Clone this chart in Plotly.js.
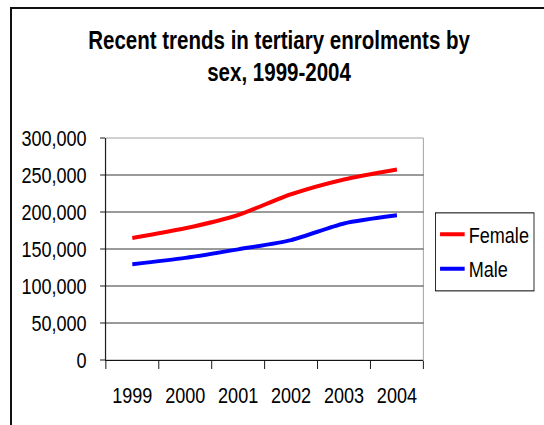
<!DOCTYPE html>
<html>
<head>
<meta charset="utf-8">
<script src="https://cdn.plot.ly/plotly-3.0.1.min.js"></script>
<style>
  html, body { margin: 0; padding: 0; background: #fff; }
  #wrap { position: relative; width: 544px; height: 425px; overflow: hidden; }
  /* the chart is laid out wide and squeezed horizontally for a narrow type face */
  #chart { position: absolute; left: 0; top: 0; width: 663px; height: 425px;
           transform: scaleX(0.8205); transform-origin: 0 0; }
  #frame { position: absolute; left: 10px; top: 7px; width: 560px; height: 440px;
           border-left: 2px solid #111; border-top: 2px solid #111; box-sizing: border-box; pointer-events: none; }
</style>
</head>
<body>
<div id="wrap">
  <div id="chart"></div>
  <div id="frame"></div>
</div>
<script>
// Tertiary enrolments by sex, 1999-2004
const years = ['1999', '2000', '2001', '2002', '2003', '2004'];
const female = [165000, 178000, 196000, 224000, 244000, 257500];
const male = [129500, 138000, 149500, 162000, 184500, 195500];
const yTicks = [0, 50000, 100000, 150000, 200000, 250000, 300000];

const font = 'Liberation Sans, Arial, sans-serif';

const traces = [
  { x: years, y: female, name: 'Female', legendgroup: 'f', type: 'scatter', mode: 'lines',
    line: { color: '#ff0000', width: 4, shape: 'spline', smoothing: 0.7 } },
  { x: years, y: male, name: 'Male', legendgroup: 'm', type: 'scatter', mode: 'lines',
    line: { color: '#0000ff', width: 4, shape: 'spline', smoothing: 0.7 } }
];

const layout = {
  width: 663, height: 425,
  margin: { l: 129, r: 141, t: 138, b: 65 },
  paper_bgcolor: 'rgba(0,0,0,0)',
  plot_bgcolor: '#fff',
  font: { family: font, size: 22, color: '#000' },
  title: {
    text: '<b>Recent trends in tertiary enrolments by<br>sex, 1999-2004</b>',
    font: { family: font, size: 25, color: '#000' },
    x: 0.513, xref: 'container', xanchor: 'center',
    y: 0.885, yref: 'container', yanchor: 'top'
  },
  xaxis: {
    type: 'category', range: [-0.5, 5.5], tickangle: 0,
    tickson: 'boundaries', ticks: 'outside', ticklen: 8, tickcolor: '#000', tickwidth: 1,
    showline: true, linecolor: '#000', linewidth: 1,
    showgrid: false, zeroline: false,
    ticklabelstandoff: 16, fixedrange: true
  },
  yaxis: {
    range: [0, 300000], tickvals: yTicks, tickformat: ',d',
    ticks: 'outside', ticklen: 6, tickcolor: '#000', tickwidth: 1,
    showline: true, linecolor: '#000', linewidth: 1,
    showgrid: true, gridcolor: '#222', gridwidth: 1,
    zeroline: false, ticklabelstandoff: 12, fixedrange: true
  },
  shapes: [
    { type: 'rect', xref: 'paper', yref: 'paper', x0: 0, x1: 1, y0: 0, y1: 1,
      line: { color: '#999', width: 1 }, layer: 'below' }
  ],
  legend: {
    x: 1.037, xanchor: 'left', y: 0.665, yanchor: 'top',
    bordercolor: '#000', borderwidth: 1, bgcolor: '#fff',
    font: { family: font, size: 22, color: '#000' },
    tracegroupgap: 3
  },
  showlegend: true
};

Plotly.newPlot('chart', traces, layout, { displayModeBar: false, staticPlot: true });
</script>
</body>
</html>
